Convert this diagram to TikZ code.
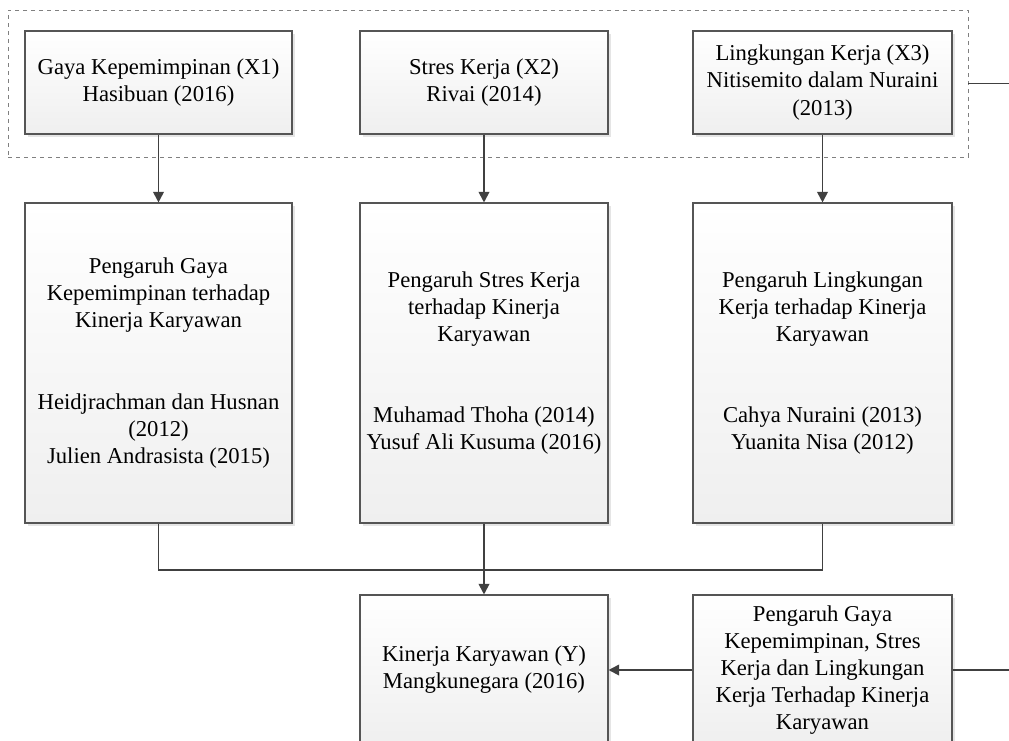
\documentclass[tikz,border=0pt]{standalone}
\usepackage{fontspec}
\setmainfont{Liberation Serif}
\usetikzlibrary{arrows.meta,shadows}
\definecolor{KerjaLine}{HTML}{404040}
\definecolor{KerjaEdge}{HTML}{555555}
\definecolor{KerjaFill}{HTML}{EFEFEF}
\tikzset{
  kbox/.style={draw=KerjaEdge,line width=0.8pt,
    top color=white,bottom color=KerjaFill,
    drop shadow={shadow xshift=2pt,shadow yshift=-2pt,fill=black,opacity=0.1},
    align=center,inner sep=0pt,
    font=\fontsize{17}{20.3}\selectfont},
  kline/.style={draw=KerjaLine,line width=1.4pt},
  karrow/.style={kline,-{Triangle[length=8pt,width=8pt]}},
}

\begin{document}
\begin{tikzpicture}[x=0.75pt,y=-0.75pt]

        \clip (0,0) rectangle (1009,740);
        \useasboundingbox (0,0) rectangle (1009,740);

        % variabel X
        \node[draw=gray,dashed,line width=0.6pt,
          minimum width=720pt,minimum height=110.25pt]
          (grup) at (488,83.5) {};

        \node[kbox,minimum width=200.25pt,minimum height=77.25pt]
          (x1) at (158.5,82.5) {Gaya Kepemimpinan (X1)\\Hasibuan (2016)};
        \node[kbox,minimum width=186pt,minimum height=77.25pt]
          (x2) at (484,82.5) {Stres Kerja (X2)\\Rivai (2014)};
        \node[kbox,minimum width=194.25pt,minimum height=77.25pt]
          (x3) at (822.5,82.5) {Lingkungan Kerja (X3)\\Nitisemito dalam Nuraini\\(2013)};

        % pengaruh
        \node[kbox,minimum width=200.25pt,minimum height=240pt]
          (mid1) at (158.5,363) {Pengaruh Gaya\\Kepemimpinan terhadap\\Kinerja Karyawan\\[40.6pt]
          Heidjrachman dan Husnan\\(2012)\\Julien Andrasista (2015)};
        \node[kbox,minimum width=186pt,minimum height=240pt]
          (mid2) at (484,363) {Pengaruh Stres Kerja\\terhadap Kinerja\\Karyawan\\[40.6pt]
          Muhamad Thoha (2014)\\Yusuf Ali Kusuma (2016)};
        \node[kbox,minimum width=194.25pt,minimum height=240pt]
          (mid3) at (822.5,363) {Pengaruh Lingkungan\\Kerja terhadap Kinerja\\Karyawan\\[40.6pt]
          Cahya Nuraini (2013)\\Yuanita Nisa (2012)};

        % variabel Y
        \node[kbox,minimum width=186pt,minimum height=112.5pt]
          (kin) at (484,670) {Kinerja Karyawan (Y)\\Mangkunegara (2016)};
        \node[kbox,minimum width=194.25pt,minimum height=112.5pt]
          (peng) at (822.5,670) {Pengaruh Gaya\\Kepemimpinan, Stres\\Kerja dan Lingkungan\\Kerja Terhadap Kinerja\\Karyawan};

        \coordinate (merge) at (484,570);
        \coordinate (kanan1) at (1009,83.5);
        \coordinate (kanan2) at (1009,670);

        \draw[karrow] (x1.south) -- (mid1.north);
        \draw[karrow] (x2.south) -- (mid2.north);
        \draw[karrow] (x3.south) -- (mid3.north);

        \draw[kline] (mid1.south) |- (merge) -| (mid3.south);
        \draw[karrow] (mid2.south) -- (kin.north);
        \draw[karrow] (peng.west) -- (kin.east);

        \draw[kline] (grup.east) -- (kanan1);
        \draw[kline] (peng.east) -- (kanan2);

      \end{tikzpicture}
\end{document}
